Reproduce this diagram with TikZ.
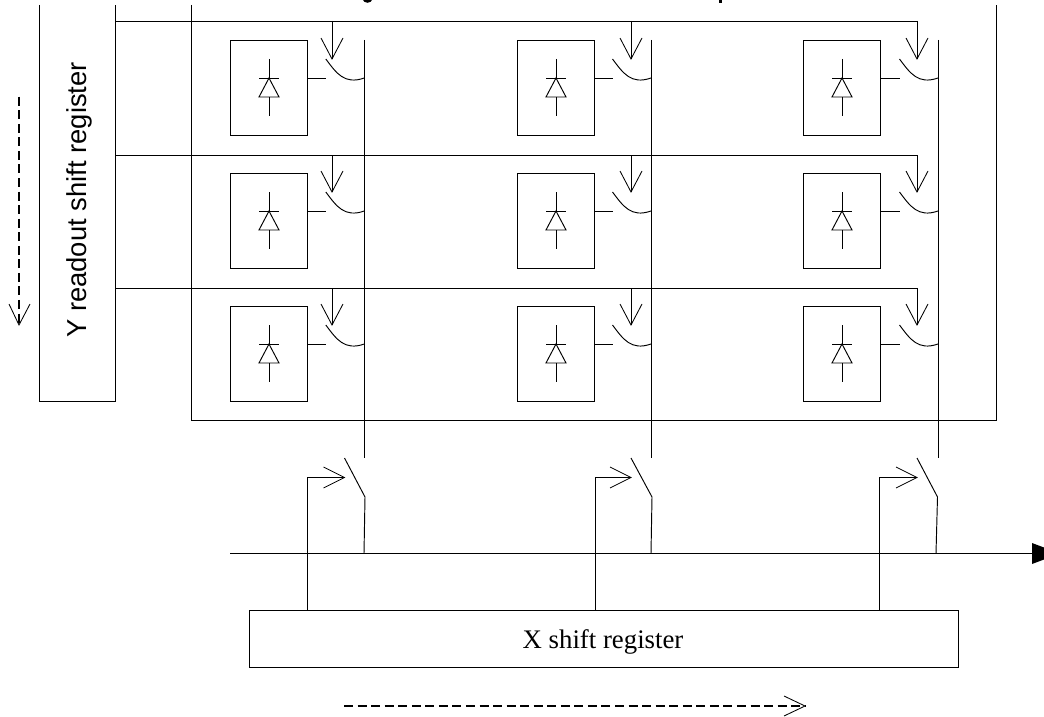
\documentclass[tikz,border=0pt]{standalone}
\usepackage{fontspec}
\usetikzlibrary{calc}
\setmainfont{Liberation Serif}
\newfontfamily\regsans{Liberation Sans}
\tikzset{
  wire/.style={line width=0.95pt,black,line cap=butt},
  openhead/.style={line width=0.85pt,black,line join=miter},
  regbox/.style={draw,line width=1pt,inner sep=0pt,rectangle},
  pixbox/.style={draw,line width=1pt,inner sep=0pt,rectangle,minimum width=77pt,minimum height=95pt},
  dashwire/.style={line width=1.6pt,black,dash pattern=on 9pt off 4.55pt}
}
\begin{document}
\begin{tikzpicture}[x=1pt,y=-1pt]
\useasboundingbox (0,0) rectangle (1044,717);
\fill[white] (0,0) rectangle (1044,717);
% tails of the clipped heading
\draw[line width=2.6pt] (363.5,-2) .. controls (364.5,2.6) and (370.5,2.6) .. (371.5,-2);
\draw[line width=3pt] (720.7,-2) -- (720.7,3);
% Y readout shift register (open at top)
\coordinate (ytl) at (39,5);
\coordinate (ybl) at (39,401);
\coordinate (ybr) at (115,401);
\coordinate (ytr) at (115,5);
\draw[wire] (ytl) -- (ybl) -- (ybr) -- (ytr);
\node[rotate=90,font=\regsans\fontsize{27.4}{31}\selectfont] (ylabel) at (79,200) {Y readout shift register};
% pixel array frame (open at top)
\coordinate (atl) at (191,5);
\coordinate (abl) at (191,420);
\coordinate (abr) at (996,420);
\coordinate (atr) at (996,5);
\draw[wire] (atl) -- (abl) -- (abr) -- (atr);
% cells
\foreach \c/\bx/\ax/\lx in {1/230/332/364.3,2/517/631/651,3/803/917/938}{
  \coordinate (coltop\c) at (\lx,40);
  \coordinate (colend\c) at (\lx,458);
  \draw[wire] (coltop\c) -- (colend\c);
  \foreach \r/\by/\ry in {1/40/21,2/173/155,3/306/288}{
    \node[pixbox,anchor=north west] (cell\c\r) at (\bx,\by) {};
    \coordinate (lt\c\r) at ($(cell\c\r.north)+(0,19)$);
    \coordinate (bar\c\r) at ($(cell\c\r.north)+(0,38)$);
    \coordinate (base\c\r) at ($(cell\c\r.north)+(0,57)$);
    \coordinate (lb\c\r) at ($(cell\c\r.north)+(0,76)$);
    \draw[wire] (lt\c\r) -- (bar\c\r);
    \draw[wire] (base\c\r) -- (lb\c\r);
    \draw[wire] ($(bar\c\r)+(-10,0)$) -- ($(bar\c\r)+(10,0)$);
    \draw[wire,line join=miter] (bar\c\r) -- ($(base\c\r)+(-10,0)$) -- ($(base\c\r)+(10,0)$) -- cycle;
    % pixel output and switch
    \coordinate (out\c\r) at (\lx-38,\by+38);
    \draw[wire] (cell\c\r.east |- bar\c\r) -- (out\c\r);
    \coordinate (blade\c\r) at (\lx-38.5,\by+19);
    \coordinate (tap\c\r) at (\lx,\by+38);
    \draw[wire] (blade\c\r) .. controls (\lx-28,\by+33) and (\lx-20,\by+45) .. (tap\c\r);
    % row select arrow
    \coordinate (tip\c\r) at (\ax,\by+19);
    \coordinate (row\c\r) at (\ax,\ry);
    \draw[wire] (row\c\r) -- (tip\c\r);
    \draw[openhead] (\ax-11,\by-2) -- (tip\c\r) -- (\ax+11,\by-2);
  }
}
% row select lines
\foreach \r/\ry in {1/21,2/155,3/288}{
  \coordinate (rowstart\r) at (ybr |- row1\r);
  \draw[wire] (rowstart\r) -- (row3\r);
}
% bus
\coordinate (busstart) at (230,553.5);
\coordinate (busend) at (1033,553.5);
\draw[wire] (busstart) -- (busend);
\fill[black] (1032,543) -- (1060,553.5) -- (1032,564) -- cycle;
% X shift register
\node[regbox,anchor=north west,minimum width=709pt,minimum height=57pt] (xreg) at (249,610) {};
\node[font=\fontsize{26.8}{31}\selectfont] (xlabel) at (603,641.5) {X shift register};
% column switches
\foreach \c/\kx/\tx/\sx/\jx in {1/307/344.5/365/364,2/595/631/652/651,3/879/917/937.5/936}{
  \coordinate (clock\c) at (\kx,477.5);
  \coordinate (ctip\c) at (\tx,477.5);
  \coordinate (ctop\c) at (\tx,458);
  \coordinate (sw\c) at (\sx,497);
  \coordinate (join\c) at (\jx,553.5);
  \draw[wire,line join=miter] (xreg.north -| clock\c) -- (clock\c) -- (ctip\c);
  \draw[openhead] (\tx-21,467) -- (ctip\c) -- (\tx-21,488);
  \draw[wire] (ctop\c) -- (sw\c) -- (join\c);
}
% scan direction arrows
\coordinate (ys) at (19,96.7);
\coordinate (ye) at (19,325);
\draw[dashwire] (ys) -- (ye);
\draw[openhead] (9,304) -- (ye) -- (30,304);
\coordinate (xs) at (344,706);
\coordinate (xe) at (805,706);
\draw[dashwire] (xs) -- (xe);
\draw[openhead] (784,696) -- (xe) -- (784,716);
\end{tikzpicture}
\end{document}
